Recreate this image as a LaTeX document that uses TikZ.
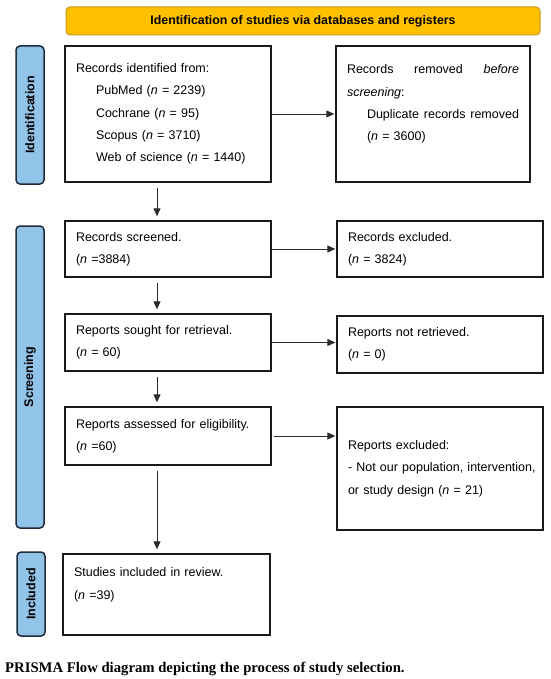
\documentclass[tikz,border=0pt]{standalone}
\usepackage{fontspec}
\setmainfont{Liberation Sans}
\newfontfamily\capfont{Liberation Serif}
\usetikzlibrary{arrows.meta}
\definecolor{bannerfill}{HTML}{FFC000}
\definecolor{bannerdraw}{HTML}{C9971A}
\definecolor{sidefill}{HTML}{92C3E9}
\definecolor{sidedraw}{HTML}{1F2B3A}
\definecolor{boxdraw}{HTML}{1A1A1A}
\definecolor{arrowcol}{HTML}{2B2B2B}
\begin{document}
\begin{tikzpicture}[x=1pt,y=-1pt,
  box/.style={draw=boxdraw, line width=1.3pt, rectangle, align=left,
    inner xsep=11pt, inner ysep=0pt, font=\fontsize{12.5}{22.3}\selectfont},
  side/.style={draw=sidedraw, fill=sidefill, line width=1.5pt, rounded corners=4pt,
    rotate=90, inner sep=0pt, minimum height=28pt,
    font=\fontsize{12.5}{15}\selectfont\bfseries},
  banner/.style={draw=bannerdraw, fill=bannerfill, line width=1pt, rounded corners=4pt,
    inner sep=0pt, minimum width=474pt, minimum height=28pt,
    font=\fontsize{12.4}{15}\selectfont\bfseries},
  arr/.style={draw=arrowcol, line width=0.9pt, -{Triangle[length=8pt,width=7pt]}},
  varr/.style={arr, shorten <=5pt, shorten >=4pt}
]
\useasboundingbox (0,0) rectangle (550,679);

\node[banner] (ban) at (303,21) {Identification of studies via databases and registers};

\node[side, minimum width=138pt] (sid) at (30,115) {Identification};
\node[side, minimum width=302pt] (sscr) at (30,377) {Screening};
\node[side, minimum width=84pt] (sinc) at (31,594) {Included};

\node[box, text width=184pt, minimum height=136pt] (b1) at (168,114)
 {Records identified from:\\
  \hspace*{20pt}PubMed (\textit{n} = 2239)\\
  \hspace*{20pt}Cochrane (\textit{n} = 95)\\
  \hspace*{20pt}Scopus (\textit{n} = 3710)\\
  \hspace*{20pt}Web of science (\textit{n} = 1440)};

\node[box, text width=172pt, minimum height=136pt] (b2) at (433,114)
 {\hbox to 172pt{Records\hfill removed\hfill \textit{before}}\\
  \textit{screening}:\\
  \hspace*{20pt}\hbox to 152pt{Duplicate\hfill records\hfill removed}\\
  \hspace*{20pt}(\textit{n} = 3600)\\
  \mbox{}};

\node[box, text width=184pt, minimum height=56pt] (scr) at (168,249)
 {Records screened.\\(\textit{n} =3884)};
\node[box, text width=184pt, minimum height=56pt] (exc) at (440,249)
 {Records excluded.\\(\textit{n} = 3824)};

\node[box, text width=184pt, minimum height=57pt] (sou) at (168,342.5)
 {Reports sought for retrieval.\\(\textit{n} = 60)};
\node[box, text width=184pt, minimum height=57pt] (nre) at (440,344.5)
 {Reports not retrieved.\\(\textit{n} = 0)};

\node[box, text width=184pt, minimum height=58pt] (ass) at (168,436)
 {Reports assessed for eligibility.\\(\textit{n} =60)};
\node[box, text width=184pt, minimum height=123pt] (rex) at (440,468.5)
 {Reports excluded:\\
  \mbox{- Not our population, intervention,}\\
  or study design (\textit{n} = 21)};

\node[box, text width=185pt, minimum height=81pt] (inc) at (166.5,594.5)
 {Studies included in review.\\(\textit{n} =39)\\\mbox{}};

\coordinate (col) at (157,0);

\draw[arr, shorten >=1pt] (b1.east) -- (b2.west);
\draw[arr, shorten >=1pt] (scr.east) -- (exc.west);
\draw[arr, shorten >=1pt] (sou.east) -- (sou.east -| nre.west);
\draw[arr, shorten <=2pt, shorten >=1pt] (ass.east) -- (ass.east -| rex.west);

\draw[varr] (b1.south -| col) -- (scr.north -| col);
\draw[varr] (scr.south -| col) -- (sou.north -| col);
\draw[varr] (sou.south -| col) -- (ass.north -| col);
\draw[varr] (ass.south -| col) -- (inc.north -| col);

\node[anchor=base west, inner sep=0pt, font=\capfont\fontsize{14.7}{17}\selectfont\bfseries] (cap) at (5,672)
 {PRISMA Flow diagram depicting the process of study selection.};
\end{tikzpicture}
\end{document}
